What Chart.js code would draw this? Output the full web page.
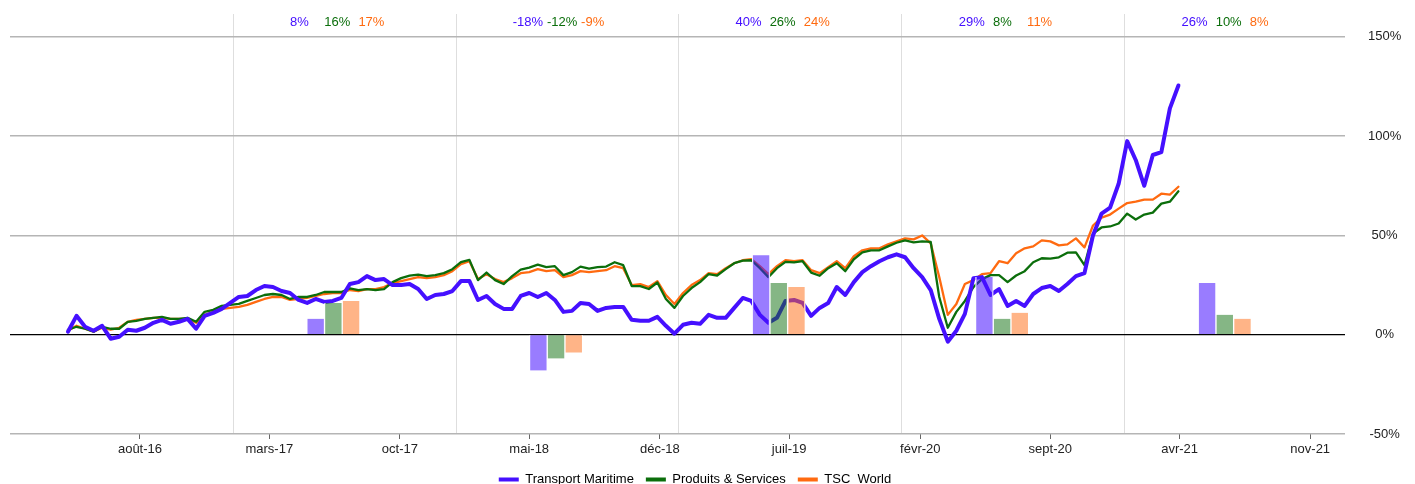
<!DOCTYPE html>
<html>
<head>
<meta charset="utf-8">
<script src="https://cdn.jsdelivr.net/npm/chart.js@4.4.1/dist/chart.umd.min.js"></script>
<style>
  html, body { margin: 0; padding: 0; overflow: hidden; background: #fff; }
</style>
</head>
<body>
<canvas id="chart" width="1415" height="496"></canvas>
<script>
// cumulative performance, one value every 14 days from firstDate (in %)
const firstDate = "2016-04-05";
const stepDays = 14;

const maritime = [
  1.5, 9.5, 4, 2, 4.5, -2, -1, 2.5, 2, 3.5,
  6, 7.5, 5.5, 6.5, 8, 3, 9.5, 11, 13, 16,
  19, 19.5, 22.5, 24.5, 24, 22, 21, 17.5, 16, 18,
  16.5, 17, 18.5, 25.5, 26.5, 29.5, 27.5, 28, 25, 25,
  25.5, 23, 18, 20, 20.5, 22, 27, 27, 17.5, 19.5,
  15.5, 13, 13, 19.5, 21, 19, 21, 17.5, 11.5, 12,
  16, 15.5, 12, 13.5, 14, 14, 7.5, 7, 7, 9,
  4.5, 0.5, 5, 6, 5.5, 10, 8.5, 8.5, 13.5, 18.5,
  17, 10, 6, 8.5, 17, 17.5, 16, 9.5, 13.5, 16,
  24, 20, 26.5, 31.5, 34.5, 37, 39, 40.5, 39, 33.5,
  29, 22.5, 8, -3.5, 2, 10.5, 28.5, 29, 20, 23,
  14.5, 17, 14.5, 20.5, 23.5, 24.5, 22, 25.5, 29.5, 31,
  50, 61, 64, 76, 97.5, 88, 75, 90.5, 92, 114,
  125.5
];

const produits = [
  2.5, 4, 3, 1.5, 4, 3, 3, 6.5, 7, 8,
  8.5, 9, 8, 8, 8.5, 6.5, 11.5, 12.5, 14.5, 15,
  15.5, 17, 18.5, 20, 20.5, 20, 18, 19, 19, 20,
  21.5, 21.5, 21.5, 23.3, 22.5, 23, 22.5, 23, 26.5, 28.5,
  29.7, 30.3, 29.5, 30, 31, 33, 36.5, 37.7, 27.5, 31.3,
  27.5, 25.5, 29.5, 32.8, 33.8, 35.3, 34, 34.5, 30, 31.5,
  34.3, 33.3, 34, 34.3, 36.5, 35, 24.5, 24.5, 23, 26.3,
  18, 13.5, 19.5, 23.5, 26.5, 30.5, 29.8, 33, 36, 37.3,
  37.5, 33.5, 29, 33.5, 36.7, 36.4, 37, 31.3, 29.7, 33.5,
  36, 32, 38, 41.5, 42.5, 42.5, 44.5, 46.3, 47.5, 46.5,
  47, 46.7, 19, 3.5, 11.5, 17, 24, 28, 30, 30,
  26.5, 29.8, 32, 36.5, 38.5, 38.3, 39, 41.3, 41.5, 35,
  51, 54, 54.5, 56, 61, 58, 60.5, 61.5, 66, 67,
  72.2
];

const tscWorld = [
  2, 4.5, 3, 1.5, 3.5, 2.5, 3.5, 6.5, 7.5, 8,
  8.5, 8.5, 8, 8, 8, 6, 10, 11.5, 13, 13.5,
  14, 15, 16.5, 18, 19, 19, 17.5, 18, 18.5, 19.5,
  20.5, 21, 21, 22.5, 22, 23, 23, 24, 26, 27,
  28, 29, 28.5, 29, 30, 32, 35.5, 37, 28, 30.5,
  28, 26.5, 28.5, 31, 31.5, 33, 32, 32.5, 29, 30,
  32, 31.5, 32, 32.5, 34.5, 33.5, 25, 25.5, 24, 27,
  20, 15.5, 21, 25, 27.5, 31, 30.5, 33.5, 36, 37.5,
  38, 34.5, 30.5, 34.5, 37.5, 37, 37.5, 32.5, 31, 34,
  37, 33.5, 39.5, 42.5, 43.5, 43.5, 45.5, 47, 48.5, 48,
  50, 46, 29, 10, 15.5, 25.5, 27.5, 30.5, 31, 37,
  36, 41, 43.5, 44.5, 47.5, 47, 45, 45.5, 48.5, 44,
  55, 59, 60.5, 63.5, 66.3, 67, 68, 68, 71, 70.5,
  74.5
];

// yearly returns (bars + labels on top)
const years = [2017, 2018, 2019, 2020, 2021];
const annualMaritime = [8, -18, 40, 29, 26];
const annualProduits = [16, -12, 26, 8, 10];
const annualTSC = [17, -9, 24, 11, 8];

const seriesNames = ["Transport Maritime", "Produits & Services", "TSC  World"];

const tickMonths = ["2016-08", "2017-03", "2017-10", "2018-05", "2018-12",
  "2019-07", "2020-02", "2020-09", "2021-04", "2021-11"];
const tickLabels = ["août-16", "mars-17", "oct-17", "mai-18", "déc-18",
  "juil-19", "févr-20", "sept-20", "avr-21", "nov-21"];
const yTicks = [-50, 0, 50, 100, 150];

const colors = ["#4510ff", "#0b6e0b", "#ff6a10"];
const barColors = ["rgba(69,16,255,0.55)", "rgba(11,110,11,0.5)", "rgba(255,106,16,0.5)"];

function dayOf(s) {
  const [y, m, d] = s.split("-").map(Number);
  return (Date.UTC(y, m - 1, d || 1) - Date.UTC(2016, 0, 1)) / 864e5;
}

const startDay = dayOf(firstDate);
const toPoints = (values) => values.map((v, i) => ({ x: startDay + i * stepDays, y: v }));
const toBars = (values) => values.map((v, i) => ({ x: dayOf(years[i] + "-06-14"), y: v }));
const annual = [annualMaritime, annualProduits, annualTSC];

const xMax = 2188;

Chart.defaults.font.family = '"Liberation Sans", Arial, sans-serif';
Chart.defaults.font.size = 13;
Chart.defaults.color = "#222";

const yearLabels = {
  id: "yearLabels",
  afterDatasetsDraw(chart) {
    const { ctx, chartArea, scales } = chart;
    ctx.save();
    ctx.font = '13px "Liberation Sans", Arial, sans-serif';
    ctx.textAlign = "left";
    ctx.textBaseline = "middle";
    years.forEach((yr, i) => {
      annual.forEach((serie, k) => {
        const px = scales.x.getPixelForValue(dayOf(yr + "-04-04") + k * 56);
        ctx.fillStyle = colors[k];
        ctx.fillText(serie[i] + "%", px, chartArea.top + 8);
      });
    });
    ctx.restore();
  },
};

// the right axis sits in the layout padding, so the legend centres like the original;
// let its labels use that padding too
const widenRightAxis = {
  id: "widenRightAxis",
  afterLayout(chart) {
    const y = chart.scales.y;
    y.right = chart.width;
    y.width = y.right - y.left;
  },
};

function lineDataset(label, values, i, width) {
  return {
    type: "line",
    label,
    data: toPoints(values),
    borderColor: colors[i],
    backgroundColor: colors[i],
    borderWidth: width,
    pointRadius: 0,
    tension: 0,
    borderJoinStyle: "round",
    borderCapStyle: "round",
    order: i + 1,
  };
}

function barDataset(values, i) {
  return {
    type: "bar",
    data: toBars(values),
    backgroundColor: barColors[i],
    borderColor: "#fff",
    borderWidth: { left: 1, right: 1, top: 0, bottom: 0 },
    barThickness: 17.7,
    order: 0,
  };
}

const chart = new Chart(document.getElementById("chart").getContext("2d"), {
  type: "line",
  data: {
    datasets: [
      lineDataset(seriesNames[0], maritime, 0, 4),
      lineDataset(seriesNames[1], produits, 1, 2.3),
      lineDataset(seriesNames[2], tscWorld, 2, 2.3),
      barDataset(annualMaritime, 0),
      barDataset(annualProduits, 1),
      barDataset(annualTSC, 2),
    ],
  },
  options: {
    responsive: false,
    animation: false,
    layout: { padding: { left: 10, top: 14, right: 35, bottom: 0 } },
    plugins: {
      tooltip: { enabled: false },
      legend: {
        position: "bottom",
        labels: {
          boxWidth: 20,
          boxHeight: 4,
          padding: 12,
          color: "#222",
          font: { size: 13 },
          generateLabels: (c) =>
            c.data.datasets
              .map((ds, i) => ({ ds, i }))
              .filter(({ ds }) => ds.type === "line")
              .map(({ ds, i }) => ({
                text: ds.label,
                fillStyle: ds.borderColor,
                strokeStyle: ds.borderColor,
                lineWidth: 0,
                hidden: false,
                datasetIndex: i,
              })),
        },
      },
    },
    scales: {
      x: {
        type: "linear",
        axis: "x",
        position: "bottom",
        min: 0,
        max: xMax,
        offset: false,
        afterBuildTicks: (s) => {
          s.ticks = tickMonths.map((m) => ({ value: dayOf(m + "-01") }));
        },
        afterFit: (s) => {
          s.height = 27;
        },
        grid: { display: true, offset: false, drawOnChartArea: false, drawTicks: true, tickLength: 5, tickColor: "#666" },
        border: { display: false },
        ticks: {
          autoSkip: false,
          maxRotation: 0,
          padding: 3,
          color: "#222",
          callback: (v, i) => tickLabels[i],
        },
      },
      years: {
        type: "linear",
        axis: "x",
        position: "bottom",
        min: 0,
        max: xMax,
        offset: false,
        afterBuildTicks: (s) => {
          s.ticks = years.map((y) => ({ value: dayOf(y + "-01-01") }));
        },
        afterFit: (s) => {
          s.height = 0;
        },
        grid: { color: "#dedede", lineWidth: 1, drawTicks: false },
        border: { display: false },
        ticks: { display: false },
      },
      y: {
        type: "linear",
        position: "right",
        min: -50,
        max: 161.5,
        afterBuildTicks: (s) => {
          s.ticks = yTicks.map((v) => ({ value: v }));
        },
        afterFit: (s) => {
          s.width = 35;
          s.paddingTop = 0;
          s.paddingBottom = 0;
        },
        grid: {
          drawTicks: false,
          color: (c) => (c.tick && c.tick.value === 0 ? "#000" : "#b5b5b5"),
          lineWidth: (c) => (c.tick && c.tick.value === 0 ? 1.3 : 1.6),
        },
        border: { display: false },
        ticks: {
          crossAlign: "center",
          padding: 23,
          color: "#222",
          callback: (v) => v + "%",
        },
      },
    },
  },
  plugins: [yearLabels, widenRightAxis],
});
</script>
</body>
</html>
